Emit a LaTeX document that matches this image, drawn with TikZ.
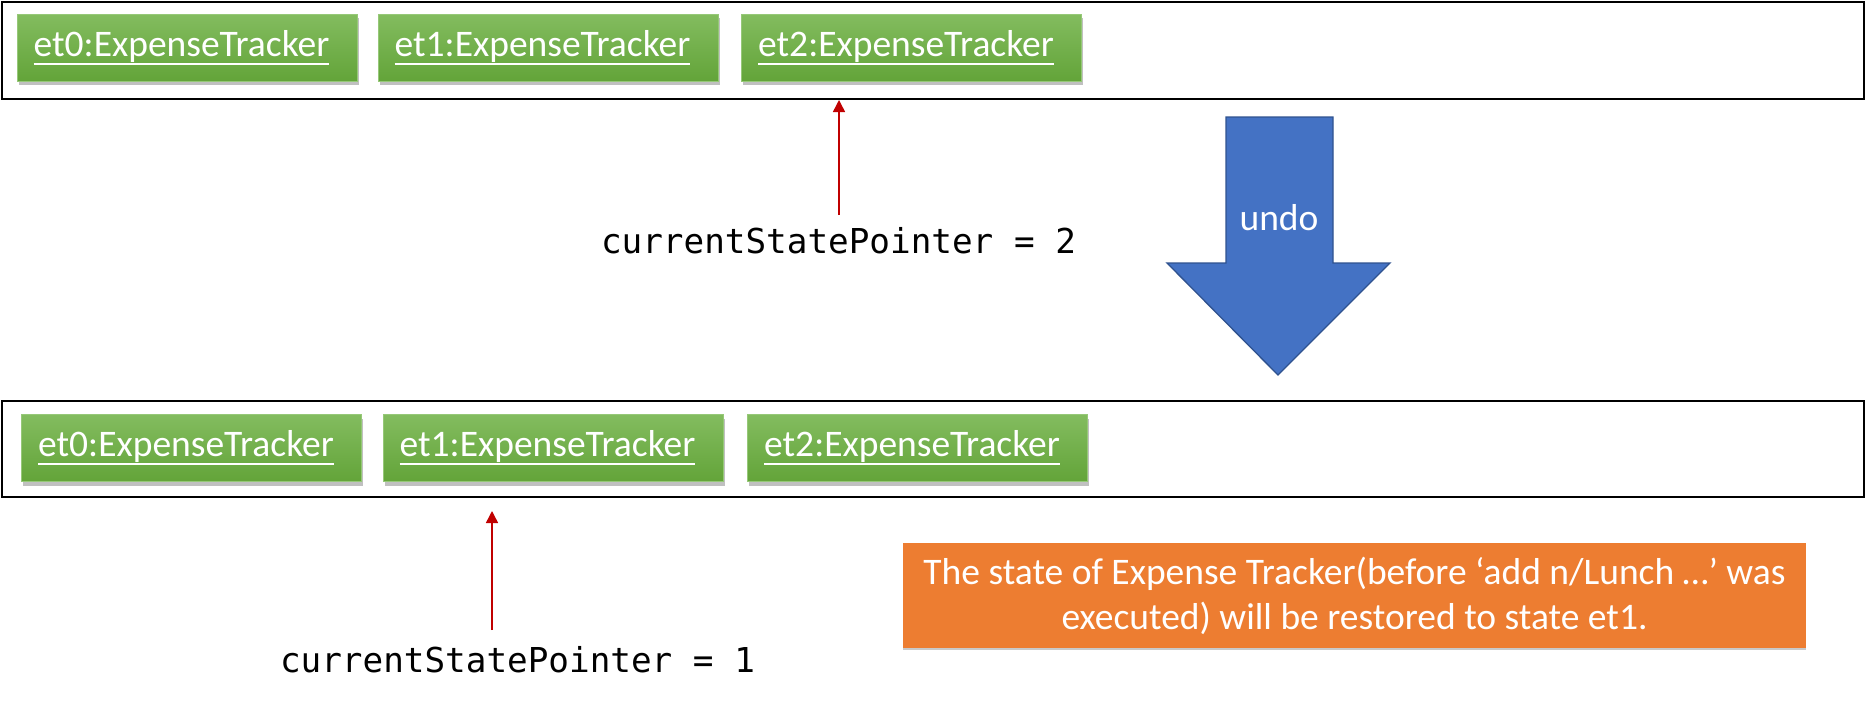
\documentclass[tikz,border=0pt]{standalone}
\usepackage{fontspec}
\setmainfont{Carlito}
\newfontfamily\monofont{DejaVu Sans Mono}
\usetikzlibrary{arrows.meta,shadows}
\definecolor{gtop}{RGB}{131,188,95}
\definecolor{gbot}{RGB}{99,164,57}
\definecolor{gline}{RGB}{150,200,120}
\definecolor{bluefill}{RGB}{68,114,196}
\definecolor{blueline}{RGB}{47,82,143}
\definecolor{orangefill}{RGB}{237,125,49}
\definecolor{ptrred}{RGB}{192,0,0}
\newcommand{\myul}[1]{\setbox0=\hbox{#1}\leavevmode\rlap{\rule[-8.5pt]{\wd0}{1.8pt}}\box0\kern11pt}
\tikzset{
  frame/.style={draw=black, line width=2.5pt, fill=white},
  gbox/.style={draw=gline, line width=1pt, top color=gtop, bottom color=gbot,
    minimum width=340pt, minimum height=67pt, inner sep=0pt, text=white,
    font=\fontsize{37.5pt}{40pt}\selectfont,
    drop shadow={shadow xshift=1.5pt, shadow yshift=-4pt, opacity=0.35, fill=black!70}},
  ptr/.style={draw=ptrred, line width=1.5pt, -{Triangle[width=12pt,length=12pt]}},
  ptrlabel/.style={anchor=base, inner sep=0pt, font=\monofont\fontsize{34.3pt}{38pt}\selectfont},
  note/.style={fill=orangefill, text=white, minimum width=903pt, minimum height=105pt,
    inner sep=0pt, align=center, font=\fontsize{37.5pt}{45pt}\selectfont,
    drop shadow={shadow xshift=0pt, shadow yshift=-2pt, opacity=0.3, fill=black!70}},
  undoarrow/.style={fill=bluefill, draw=blueline, line width=1.3pt}
}
\begin{document}
\begin{tikzpicture}[x=1pt,y=-1pt]
\useasboundingbox (0,0) rectangle (1866,705);
% frames
\node[frame, minimum width=1862pt, minimum height=97pt, inner sep=0pt] (topframe) at (932.75,50.5) {};
\node[frame, minimum width=1862pt, minimum height=96pt, inner sep=0pt] (botframe) at (932.75,449) {};
% top states
\node[gbox] (t0) at (187,47.5) {\myul{et0:ExpenseTracker}};
\node[gbox] (t1) at (548,47.5) {\myul{et1:ExpenseTracker}};
\node[gbox] (t2) at (911.5,47.5) {\myul{et2:ExpenseTracker}};
% bottom states
\node[gbox] (b0) at (191.5,448) {\myul{et0:ExpenseTracker}};
\node[gbox] (b1) at (553,448) {\myul{et1:ExpenseTracker}};
\node[gbox] (b2) at (917.5,448) {\myul{et2:ExpenseTracker}};
% pointer labels
\node[ptrlabel] (lab2) at (838.5,253) {currentStatePointer = 2};
\node[ptrlabel] (lab1) at (517.5,672) {currentStatePointer = 1};
\coordinate (p2s) at (839,215);
\coordinate (p2e) at (839,100);
\coordinate (p1s) at (492,630);
\coordinate (p1e) at (492,511);
\draw[ptr] (p2s) -- (p2e);
\draw[ptr] (p1s) -- (p1e);
% undo arrow
\draw[undoarrow] (1226,117) -- (1333,117) -- (1333,263) -- (1390,263) -- (1278,375) -- (1167,263) -- (1226,263) -- cycle;
\node[text=white, font=\fontsize{37.5pt}{40pt}\selectfont, inner sep=0pt] (undo) at (1279,218) {undo};
% note
\node[note] (note) at (1354.5,595.5) {The state of Expense Tracker(before ‘add n/Lunch …’ was\\executed) will be restored to state et1.};
\end{tikzpicture}
\end{document}
